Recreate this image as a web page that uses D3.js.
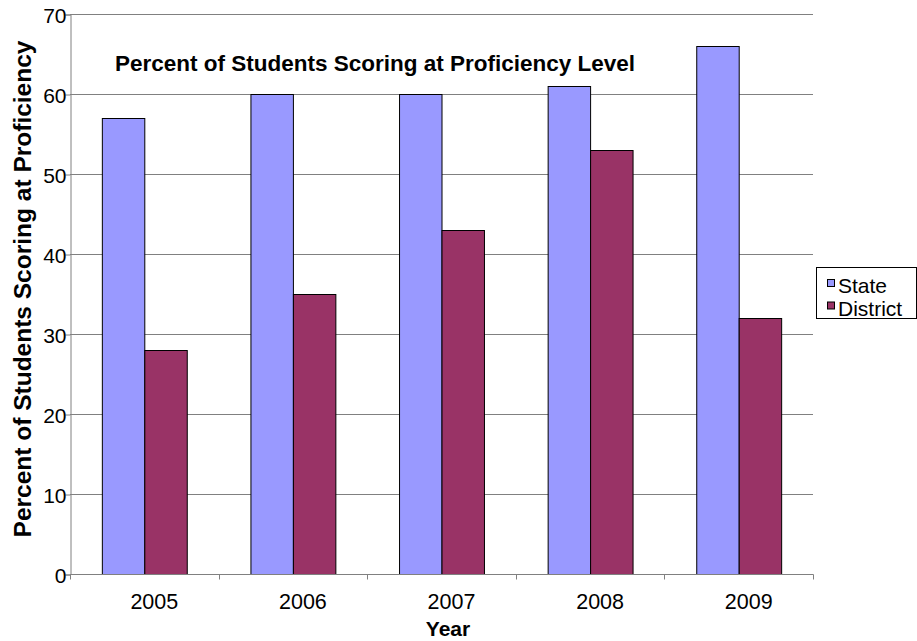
<!DOCTYPE html>
<html>
<head>
<meta charset="utf-8">
<script src="https://cdn.jsdelivr.net/npm/d3@7"></script>
<style>
  html, body { margin: 0; padding: 0; background: #fff; }
  svg { display: block; font-family: "Liberation Sans", Arial, sans-serif; }
</style>
</head>
<body>
<svg id="chart" width="917" height="641"></svg>
<script>
// Proficiency results by year
const years = ["2005", "2006", "2007", "2008", "2009"];
const seriesNames = ["State", "District"];
const stateValues = [57, 60, 60, 61, 66];
const districtValues = [28, 35, 43, 53, 32];
const yTicks = [0, 10, 20, 30, 40, 50, 60, 70];
const colors = ["#9999ff", "#993366"];

const svg = d3.select("#chart");
const plot = { left: 70, right: 813, top: 14, bottom: 574 };

const x = d3.scaleBand().domain(years).range([plot.left, plot.right]).paddingInner(0).paddingOuter(0);
const inner = d3.scaleBand().domain(seriesNames).range([0, x.bandwidth()]).paddingInner(0).paddingOuter(0.75);
const y = d3.scaleLinear().domain([0, 70]).range([plot.bottom, plot.top]);

// gridlines
svg.append("g")
  .selectAll("line")
  .data(yTicks.filter(d => d > 0))
  .join("line")
  .attr("x1", plot.left).attr("x2", plot.right)
  .attr("y1", d => y(d) + 0.5).attr("y2", d => y(d) + 0.5)
  .attr("stroke", "#808080").attr("stroke-width", 1);

// bars
const rows = years.map((yr, i) => ({ year: yr, values: [stateValues[i], districtValues[i]] }));
svg.append("g")
  .selectAll("g")
  .data(rows)
  .join("g")
  .attr("transform", d => `translate(${x(d.year)},0)`)
  .selectAll("rect")
  .data(d => d.values.map((v, j) => ({ name: seriesNames[j], value: v, j })))
  .join("rect")
  .attr("x", d => inner(d.name) + 0.5)
  .attr("y", d => y(d.value) + 0.5)
  .attr("width", inner.bandwidth())
  .attr("height", d => y(0) - y(d.value))
  .attr("fill", d => colors[d.j])
  .attr("stroke", "#000")
  .attr("stroke-width", 1);

// y axis
const yAxis = svg.append("g")
  .attr("transform", `translate(${plot.left + 0.5},0.5)`)
  .call(d3.axisLeft(y).tickValues(yTicks).tickSize(5).tickPadding(-1).tickFormat(d3.format("d")));
yAxis.select(".domain").attr("stroke", "#808080");
yAxis.selectAll(".tick line").attr("stroke", "#808080");
yAxis.selectAll(".tick text")
  .attr("font-family", "Liberation Sans, Arial, sans-serif")
  .attr("font-size", 21).attr("fill", "#000").attr("dy", "0.36em");

// x axis with ticks at category boundaries
const xAxis = svg.append("g")
  .attr("transform", `translate(0,${plot.bottom + 0.5})`);
xAxis.append("line")
  .attr("x1", plot.left).attr("x2", plot.right + 0.5)
  .attr("y1", 0).attr("y2", 0)
  .attr("stroke", "#808080");
const bounds = years.map(d => x(d)).concat([plot.right]);
xAxis.selectAll(".bt")
  .data(bounds)
  .join("line")
  .attr("class", "bt")
  .attr("x1", d => Math.round(d) + 0.5).attr("x2", d => Math.round(d) + 0.5)
  .attr("y1", 0).attr("y2", 5)
  .attr("stroke", "#808080");
xAxis.selectAll("text")
  .data(years)
  .join("text")
  .attr("x", d => x(d) + x.bandwidth() / 2 + 10)
  .attr("y", 34)
  .attr("text-anchor", "middle")
  .attr("font-size", 21.5)
  .attr("fill", "#000")
  .text(d => d);

// title inside the plot
svg.append("text")
  .attr("x", 375).attr("y", 71)
  .attr("text-anchor", "middle")
  .attr("font-size", 22.5).attr("font-weight", "bold")
  .text("Percent of Students Scoring at Proficiency Level");

// axis titles
svg.append("text")
  .attr("x", 448).attr("y", 636)
  .attr("text-anchor", "middle")
  .attr("font-size", 21).attr("font-weight", "bold")
  .text("Year");

svg.append("text")
  .attr("transform", "translate(31,289) rotate(-90)")
  .attr("text-anchor", "middle")
  .attr("font-size", 24.5).attr("font-weight", "bold")
  .text("Percent of Students Scoring at Proficiency");

// legend
const legend = svg.append("g");
legend.append("rect")
  .attr("x", 816.5).attr("y", 267.5)
  .attr("width", 100).attr("height", 51)
  .attr("fill", "#fff").attr("stroke", "#000");
const items = legend.selectAll("g.item")
  .data(seriesNames)
  .join("g")
  .attr("class", "item")
  .attr("transform", (d, i) => `translate(0,${i * 22.5})`);
items.append("rect")
  .attr("x", 827.5).attr("y", 279.5)
  .attr("width", 7).attr("height", 7)
  .attr("fill", (d, i) => colors[i]).attr("stroke", "#000");
items.append("text")
  .attr("x", 838).attr("y", 293)
  .attr("font-size", 21)
  .text(d => d);
</script>
</body>
</html>
